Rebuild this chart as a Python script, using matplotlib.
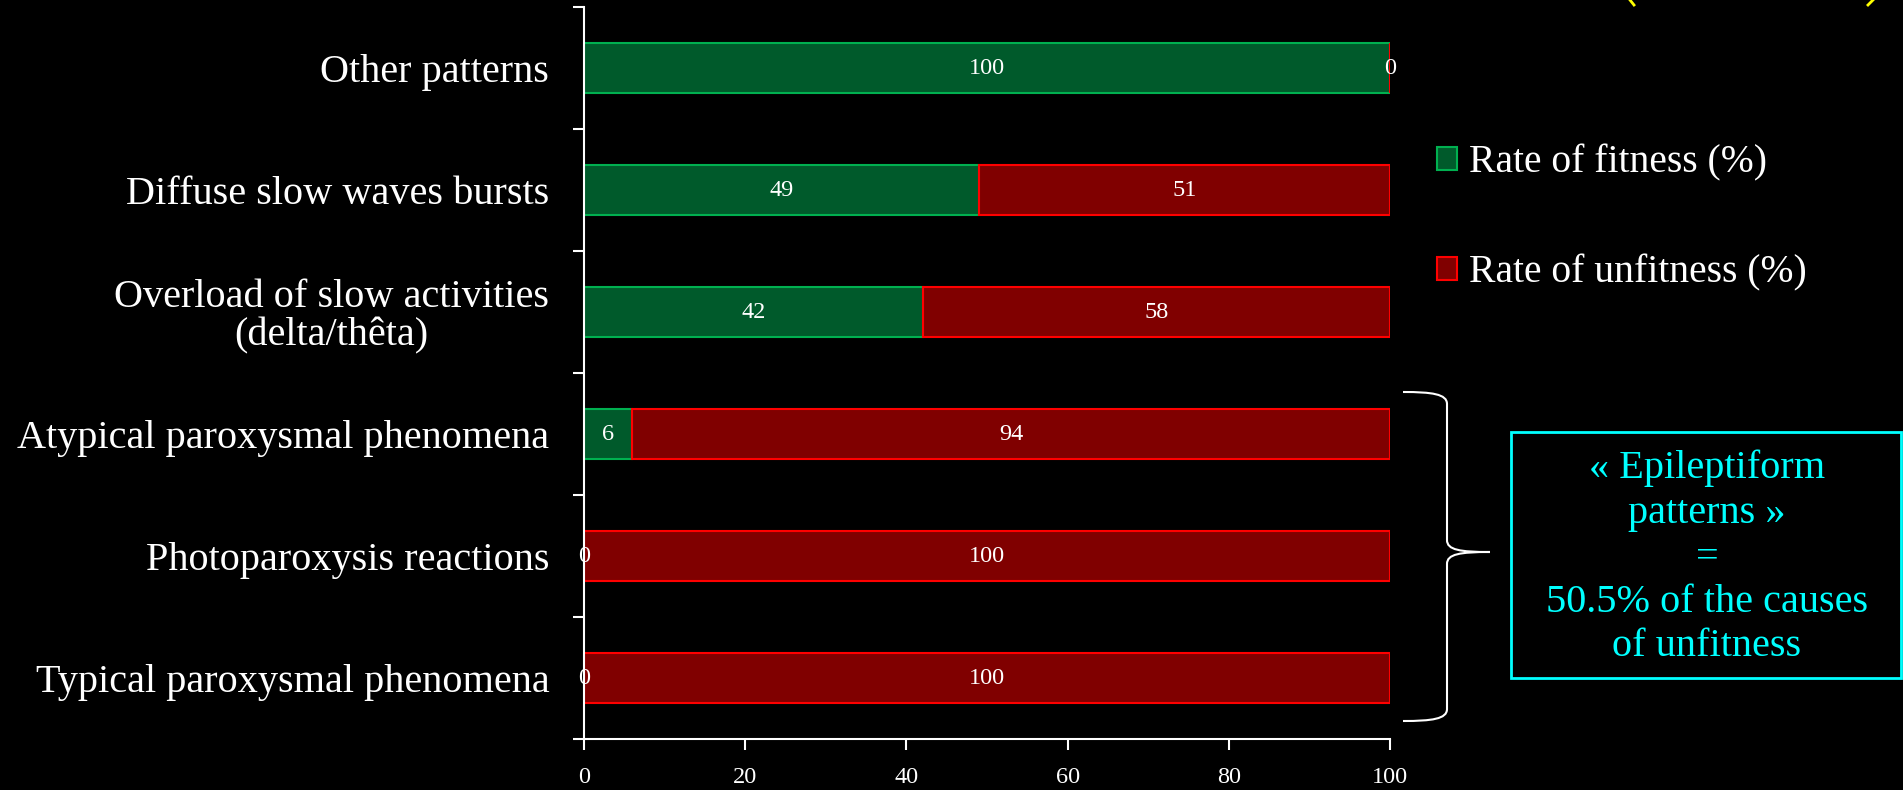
import numpy as np
import matplotlib
matplotlib.use("Agg")
import matplotlib.pyplot as plt
from matplotlib.path import Path
from matplotlib.patches import PathPatch, Rectangle
from matplotlib.lines import Line2D

# EEG pattern categories and the share of fit / unfit subjects for each
categories = [
    "Other patterns",
    "Diffuse slow waves bursts",
    "Overload of slow activities\n(delta/thêta)",
    "Atypical paroxysmal phenomena",
    "Photoparoxysis reactions",
    "Typical paroxysmal phenomena",
]
fitness = [100, 49, 42, 6, 0, 0]
unfitness = [0, 51, 58, 94, 100, 100]
x_ticks = [0, 20, 40, 60, 80, 100]
series_names = ["Rate of fitness (%)", "Rate of unfitness (%)"]
box_lines = ["« Epileptiform", "patterns »", "=", "50.5% of the causes", "of unfitness"]

FONT = "Liberation Serif"
W, H = 1903, 790
plt.rcParams["font.family"] = [FONT, "DejaVu Serif"]

fig = plt.figure(figsize=(W / 100, H / 100), dpi=100, facecolor="black")
ax = fig.add_axes([584 / W, 1 - 739 / H, (1390 - 584) / W, (739 - 7) / H])
ax.set_facecolor("black")

green_fill, green_edge = "#005a2b", "#00b050"
red_fill, red_edge = "#800000", "#ff0000"

n = len(categories)
ypos = np.arange(n)[::-1]
bh = 0.41
b1 = ax.barh(ypos, fitness, height=bh, color=green_fill, edgecolor=green_edge,
             linewidth=1.5, label=series_names[0], zorder=2)
b2 = ax.barh(ypos, unfitness, left=fitness, height=bh, color=red_fill,
             edgecolor=red_edge, linewidth=1.5, label=series_names[1], zorder=2)
for bars in (b1, b2):
    ax.bar_label(bars, labels=[str(v) for v in bars.datavalues], label_type="center",
                 color="white", fontsize=17.5, family=FONT, zorder=3)

ax.set_xlim(0, 100)
ax.set_ylim(-0.5, n - 0.5)
ax.set_xticks(x_ticks)
ax.set_xticklabels([str(t) for t in x_ticks])
ax.set_yticks(ypos)
ax.set_yticklabels(categories)
ax.set_yticks(np.arange(-0.5, n, 1.0), minor=True)

ax.tick_params(axis="y", which="major", length=0, pad=25, labelsize=29, labelcolor="white")
ax.tick_params(axis="y", which="minor", length=8, width=1.5, color="white", direction="out")
ax.tick_params(axis="x", which="major", length=8, width=1.5, color="white", direction="out",
               pad=12, labelsize=17.5, labelcolor="white")
for lab in ax.get_yticklabels():
    lab.set_multialignment("center")
    lab.set_linespacing(1.02)

for side in ("top", "right"):
    ax.spines[side].set_visible(False)
for side in ("left", "bottom"):
    ax.spines[side].set_color("white")
    ax.spines[side].set_linewidth(1.5)

leg = ax.legend(handles=[b1, b2], loc="center left",
                bbox_to_anchor=(1437 / W, 1 - 218 / H), bbox_transform=fig.transFigure,
                frameon=False, fontsize=28.5, labelcolor="white", handlelength=0.5,
                handleheight=0.5, handletextpad=0.3, labelspacing=1.85,
                borderpad=0, borderaxespad=0)


def fp(x, y):
    """Pixel position (y measured downward) to figure fraction."""
    return (x / W, 1 - y / H)


# curly brace grouping the paroxysmal patterns
verts = [fp(1403, 392),
         fp(1432, 392), fp(1447, 394), fp(1447, 404),
         fp(1447, 540),
         fp(1447, 550), fp(1460, 552), fp(1490, 552),
         fp(1460, 552), fp(1447, 554), fp(1447, 564),
         fp(1447, 709),
         fp(1447, 719), fp(1432, 721), fp(1403, 721)]
codes = [Path.MOVETO,
         Path.CURVE4, Path.CURVE4, Path.CURVE4,
         Path.LINETO,
         Path.CURVE4, Path.CURVE4, Path.CURVE4,
         Path.CURVE4, Path.CURVE4, Path.CURVE4,
         Path.LINETO,
         Path.CURVE4, Path.CURVE4, Path.CURVE4]
fig.add_artist(PathPatch(Path(verts, codes), transform=fig.transFigure,
                         fill=False, edgecolor="white", linewidth=1.5))

# annotation box
x0, y0 = fp(1511, 678)
x1, y1 = fp(1901, 432)
fig.add_artist(Rectangle((x0, y0), x1 - x0, y1 - y0, transform=fig.transFigure,
                         fill=False, edgecolor="#00ffff", linewidth=2))
for i, line in enumerate(box_lines):
    fig.text(*fp(1707, 478 + 44.5 * i), line, color="#00ffff", fontsize=29,
             ha="center", va="baseline", family=FONT)

# yellow strokes at the upper edge
for (xa, ya, xb, yb) in [(1630, 0, 1634, 5), (1873, 0, 1868, 5)]:
    (fa, ga), (fb, gb) = fp(xa, ya), fp(xb, yb)
    fig.add_artist(Line2D([fa, fb], [ga, gb], transform=fig.transFigure,
                          color="#ffff00", linewidth=2))

fig.savefig("out.png", dpi=100, facecolor="black")
